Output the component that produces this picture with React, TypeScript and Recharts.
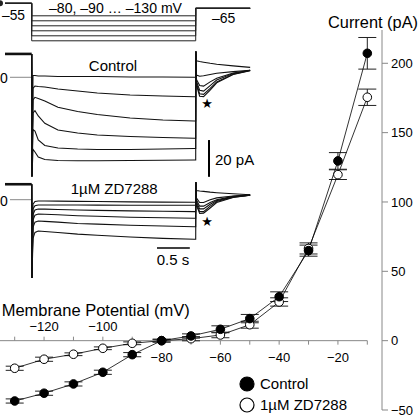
import React from 'react';
import { ComposedChart, LineChart, Line, XAxis, YAxis, Scatter, ErrorBar, Legend, ReferenceLine } from 'recharts';

const FONT = '"Liberation Sans", Arial, Helvetica, sans-serif';

// ---------- I–V data ----------
const voltages = [-130, -120, -110, -100, -90, -80, -70, -60, -50, -40, -30, -20, -10];
const controlCurrent = [-43.5, -37.9, -31.2, -22.8, -10.1, 0, 3.4, 8.2, 15.9, 31.7, 64.9, 129.6, 207.2];
const controlSem = [1.5, 1.5, 1.5, 1.5, 1.5, 1, 1.5, 2.5, 3, 3.5, 4, 6, 11.4];
const zdCurrent = [-19.9, -13.4, -9.8, -5.5, -1.9, 0, 1.4, 4.1, 11.5, 27.9, 66.5, 119.7, 175.5];
const zdSem = [1.5, 1.5, 1, 1, 1, 1, 1.5, 2, 2.5, 3, 4, 3.5, 5.9];

const xTickValues = [-130, -120, -110, -100, -90, -80, -70, -60, -50, -40, -30, -20, -10];
const xTickLabels = ['', '−120', '', '−100', '', '−80', '', '−60', '', '−40', '', '−20', ''];
const yTickValues = [-50, 0, 50, 100, 150, 200];

const legendItems = [
  { label: 'Control', fill: '#000' },
  { label: '1µM ZD7288', fill: '#fff' },
];

// ---------- voltage protocol (mV) ----------
const holdingMv = -55;
const tailMv = -65;
const stepLevelsMv = [-80, -90, -100, -110, -120, -130];

// ---------- current traces (pA vs s) ----------
const sweepStart = -0.407;
const stepEnd = 2.5;
const sweepEnd = 3.33;
const bodyTimes = [0.02, 0.05, 0.1, 0.2, 0.4, 0.7, 1.0, 1.5, 2.0, 2.48];
const tailTimes = [2.51, 2.56, 2.62, 2.72, 2.82, 3.07, 3.33];

const controlHolding = 12.7;
const controlSpikeLow = -53.9;
const controlSpikeHigh = 14;
const controlBodies = [
  [0.98, 0.98, 0.7, 0.7, 0.43, 0.43, 0.43, 0.16, 0.16, 0],
  [-5.98, -4.73, -5.0, -5.27, -6.36, -7.45, -8.53, -9.62, -10.16, -10.54],
  [-12.34, -10.87, -11.52, -12.88, -16.3, -18.59, -20.22, -22.12, -23.2, -23.75],
  [-19.4, -18.15, -21.03, -25.0, -28.64, -30.27, -31.36, -32.17, -32.72, -33.15],
  [-28.37, -29.18, -34.08, -37.07, -38.42, -38.97, -39.24, -39.24, -38.97, -38.7],
  [-39.13, -40.6, -43.3, -44.67, -45.22, -45.33, -45.33, -45.22, -45.11, -44.95],
];
const controlTails = [
  [9, 8.6, 8.2, 7.6, 7.1, 6.2, 5.4],
  [1.2, 0.6, 0.8, 1.5, 2.2, 3.1, 3.8],
  [-1, -4.5, -4.8, -2.5, -0.5, 2.3, 3.8],
  [-2, -7, -7.5, -4.5, -1.5, 2, 3.8],
  [-3, -9, -9.3, -6, -2.5, 1.7, 3.7],
  [-4, -10.3, -10.5, -7, -3, 1.5, 3.6],
];

const zdHolding = 8.4;
const zdSpikeLow = -42.6;
const zdSpikeHigh = 9.5;
const zdBodies = [
  [-2.5, -1.0, -0.7, -0.7, -0.8, -0.9, -1.0, -1.2, -1.3, -1.4],
  [-5, -3.3, -2.9, -2.9, -2.9, -2.9, -2.95, -3.0, -3.0, -3.0],
  [-8, -5.6, -5.1, -5.1, -5.3, -5.6, -5.8, -6.1, -6.3, -6.5],
  [-11, -8.4, -7.8, -7.9, -8.2, -8.7, -9.0, -9.5, -9.8, -10.1],
  [-15, -12.2, -11.6, -11.8, -12.2, -12.9, -13.3, -13.9, -14.3, -14.7],
  [-21, -17.8, -17.0, -17.3, -17.8, -18.7, -19.3, -20.3, -21.0, -21.5],
];
const zdTails = [
  [5, 4.7, 4.5, 4.1, 3.8, 3.2, 2.7],
  [1, -1.5, -1.5, 0, 1, 2, 2.6],
  [0, -3.5, -3.5, -1.5, 0, 1.8, 2.5],
  [-1, -5, -5, -2.5, -0.5, 1.6, 2.5],
  [-2, -6.5, -6.5, -3.5, -1, 1.4, 2.4],
  [-3, -7.5, -7.3, -4.5, -1.5, 1.2, 2.4],
];

// scale bars
const currentBarTime = 2.703;
const currentBarPa = [-34.1, -54.1];
const timeBarPa = -26.25;
const timeBarS = [1.91, 2.41];
const zeroLineTimes = [-0.331, 0];

// ---------- builders ----------
const ivData = voltages.map((mv, i) => ({
  mv,
  ctl: controlCurrent[i],
  ctlErr: controlSem[i],
  zd: zdCurrent[i],
  zdErr: zdSem[i],
}));
const xTickData = xTickValues.map((mv, i) => ({ mv, y: 0, label: xTickLabels[i], above: mv < -80 }));

const buildSweep = (holding: number, low: number, high: number, body: number[], tail: number[]) => [
  { t: 0, v: holding },
  { t: 0.004, v: low },
  ...body.map((v, i) => ({ t: bodyTimes[i], v })),
  { t: stepEnd, v: body[body.length - 1] },
  { t: stepEnd + 0.003, v: high },
  ...tail.map((v, i) => ({ t: tailTimes[i], v })),
];
const buildProtocol = (level: number) => [
  { t: -0.483, v: holdingMv },
  { t: 0, v: holdingMv },
  { t: 0, v: level },
  { t: stepEnd, v: level },
  { t: stepEnd, v: tailMv },
  { t: sweepEnd, v: tailMv },
];

const T_DOMAIN: [number, number] = [-0.483, 3.358];
const TRACE_W = 252;

const XTick = (props: any) => {
  const { cx, cy, payload } = props;
  const up = payload.above;
  return (
    <g>
      <line x1={cx} y1={cy} x2={cx} y2={up ? cy - 4 : cy + 4} stroke="#888" strokeWidth={1} />
      {payload.label ? (
        <text x={cx} y={up ? cy - 14 : cy + 17} textAnchor="middle" dominantBaseline="central"
          fontSize={13} fontFamily={FONT} fill="#000">{payload.label}</text>
      ) : null}
    </g>
  );
};

const LegendContent = () => (
  <div style={{ fontFamily: FONT, fontSize: 15, color: '#000' }}>
    {legendItems.map((it) => (
      <div key={it.label} style={{ display: 'flex', alignItems: 'center', height: 21 }}>
        <svg width={18} height={18}>
          <circle cx={9} cy={9} r={7} fill={it.fill} stroke="#000" strokeWidth={1.2} />
        </svg>
        <span style={{ marginLeft: 4, whiteSpace: 'nowrap' }}>{it.label}</span>
      </div>
    ))}
  </div>
);

const TraceChart = (p: {
  top: number; height: number; domain: [number, number]; holding: number; low: number; high: number;
  bodies: number[][]; tails: number[][]; children?: React.ReactNode;
}) => (
  <div style={{ position: 'absolute', left: 0, top: p.top }}>
    <LineChart width={TRACE_W} height={p.height} margin={{ top: 0, right: 0, bottom: 0, left: 0 }}>
      <XAxis type="number" dataKey="t" domain={T_DOMAIN} hide allowDataOverflow />
      <YAxis type="number" domain={p.domain} hide allowDataOverflow />
      <Line data={zeroLineTimes.map((t) => ({ t, v: 0 }))} dataKey="v" stroke="#888" strokeWidth={1}
        dot={false} isAnimationActive={false} />
      <Line data={[{ t: sweepStart, v: p.holding }, { t: 0, v: p.holding }]} dataKey="v" stroke="#111"
        strokeWidth={2.6} dot={false} isAnimationActive={false} />
      {p.bodies.map((b, i) => (
        <Line key={i} data={buildSweep(p.holding, p.low, p.high, b, p.tails[i])} dataKey="v"
          stroke="#111" strokeWidth={1.1} dot={false} isAnimationActive={false} />
      ))}
      {p.children}
    </LineChart>
  </div>
);

export default function App() {
  return (
    <div style={{ position: 'absolute', left: 0, top: 0, width: 419, height: 417, background: '#fff', overflow: 'hidden' }}>
      {/* I–V plot */}
      <div style={{ position: 'absolute', left: 0, top: 0 }}>
        <ComposedChart width={419} height={417} data={ivData} margin={{ top: 30, right: 0, bottom: 7, left: 0 }}>
          <XAxis type="number" dataKey="mv" domain={[-135, -5]} hide allowDataOverflow />
          <YAxis orientation="right" width={37} type="number" domain={[-50, 224]} ticks={yTickValues}
            interval={0} tickSize={6} tickMargin={3} allowDataOverflow
            axisLine={{ stroke: '#888' }} tickLine={{ stroke: '#888' }}
            tick={{ fill: '#000', fontSize: 13, fontFamily: FONT }}
            tickFormatter={(v: number) => (v < 0 ? '−' + Math.abs(v) : String(v))} />
          <ReferenceLine segment={[{ x: -135, y: 0 }, { x: -10, y: 0 }]} stroke="#888" strokeWidth={1} />
          <Scatter data={xTickData} dataKey="y" shape={XTick} isAnimationActive={false} />
          <Line dataKey="zd" stroke="#000" strokeWidth={0.8} isAnimationActive={false}
            dot={{ r: 4.3, fill: '#fff', stroke: '#000', strokeWidth: 1 }}>
            <ErrorBar dataKey="zdErr" width={9} stroke="#222" strokeWidth={1} direction="y" />
          </Line>
          <Line dataKey="ctl" stroke="#000" strokeWidth={0.8} isAnimationActive={false}
            dot={{ r: 4.3, fill: '#000', stroke: '#000', strokeWidth: 1 }}>
            <ErrorBar dataKey="ctlErr" width={9} stroke="#222" strokeWidth={1} direction="y" />
          </Line>
          <Legend layout="vertical" align="center" verticalAlign="middle" content={LegendContent}
            wrapperStyle={{ position: 'absolute', left: 238, top: 373, width: 140, height: 44 }} />
        </ComposedChart>
      </div>

      {/* Voltage protocol */}
      <div style={{ position: 'absolute', left: 0, top: 0 }}>
        <LineChart width={TRACE_W} height={45} margin={{ top: 0, right: 0, bottom: 0, left: 0 }}>
          <XAxis type="number" dataKey="t" domain={T_DOMAIN} hide allowDataOverflow />
          <YAxis type="number" domain={[-138.4, -48.4]} hide allowDataOverflow />
          {stepLevelsMv.map((lv) => (
            <Line key={lv} data={buildProtocol(lv)} dataKey="v" stroke="#222" strokeWidth={1}
              dot={false} isAnimationActive={false} />
          ))}
        </LineChart>
      </div>

      {/* Control traces */}
      <TraceChart top={45} height={135} domain={[-55.82, 17.55]} holding={controlHolding}
        low={controlSpikeLow} high={controlSpikeHigh} bodies={controlBodies} tails={controlTails}>
        <Line data={currentBarPa.map((v) => ({ t: currentBarTime, v }))} dataKey="v" stroke="#000"
          strokeWidth={2} dot={false} isAnimationActive={false} />
      </TraceChart>

      {/* ZD7288 traces */}
      <TraceChart top={178} height={102} domain={[-43.64, 11.79]} holding={zdHolding}
        low={zdSpikeLow} high={zdSpikeHigh} bodies={zdBodies} tails={zdTails}>
        <Line data={timeBarS.map((t) => ({ t, v: timeBarPa }))} dataKey="v" stroke="#000"
          strokeWidth={1.6} dot={false} isAnimationActive={false} />
      </TraceChart>

      {/* Text annotations */}
      <svg width={419} height={417} style={{ position: 'absolute', left: 0, top: 0, pointerEvents: 'none' }}
        fontFamily={FONT} fill="#000">
        <text x={2} y={14.5} fontSize={14} dominantBaseline="central" textLength={23} lengthAdjust="spacingAndGlyphs">–55</text>
        <text x={49} y={7.5} fontSize={14.5} dominantBaseline="central" textLength={133} lengthAdjust="spacingAndGlyphs">–80, –90 … –130 mV</text>
        <text x={212} y={18} fontSize={14} dominantBaseline="central">–65</text>
        <text x={113} y={65.7} fontSize={15} textAnchor="middle" dominantBaseline="central">Control</text>
        <text x={0} y={77.5} fontSize={14} dominantBaseline="central">0</text>
        <text x={207} y={103} fontSize={13} textAnchor="middle" dominantBaseline="central"
          fontFamily='"DejaVu Sans", sans-serif'>★</text>
        <text x={215} y={159} fontSize={15} dominantBaseline="central">20 pA</text>
        <text x={70.7} y={188.3} fontSize={15} dominantBaseline="central">1µM ZD7288</text>
        <text x={0} y={200.8} fontSize={14} dominantBaseline="central">0</text>
        <text x={207} y={221} fontSize={13} textAnchor="middle" dominantBaseline="central"
          fontFamily='"DejaVu Sans", sans-serif'>★</text>
        <text x={156.7} y={259} fontSize={15} dominantBaseline="central">0.5 s</text>
        <text x={328} y={21.5} fontSize={16.5} dominantBaseline="central" textLength={90} lengthAdjust="spacingAndGlyphs">Current (pA)</text>
        <text x={1.7} y={310} fontSize={16.5} dominantBaseline="central" textLength={188} lengthAdjust="spacingAndGlyphs">Membrane Potential (mV)</text>
      </svg>
    </div>
  );
}
